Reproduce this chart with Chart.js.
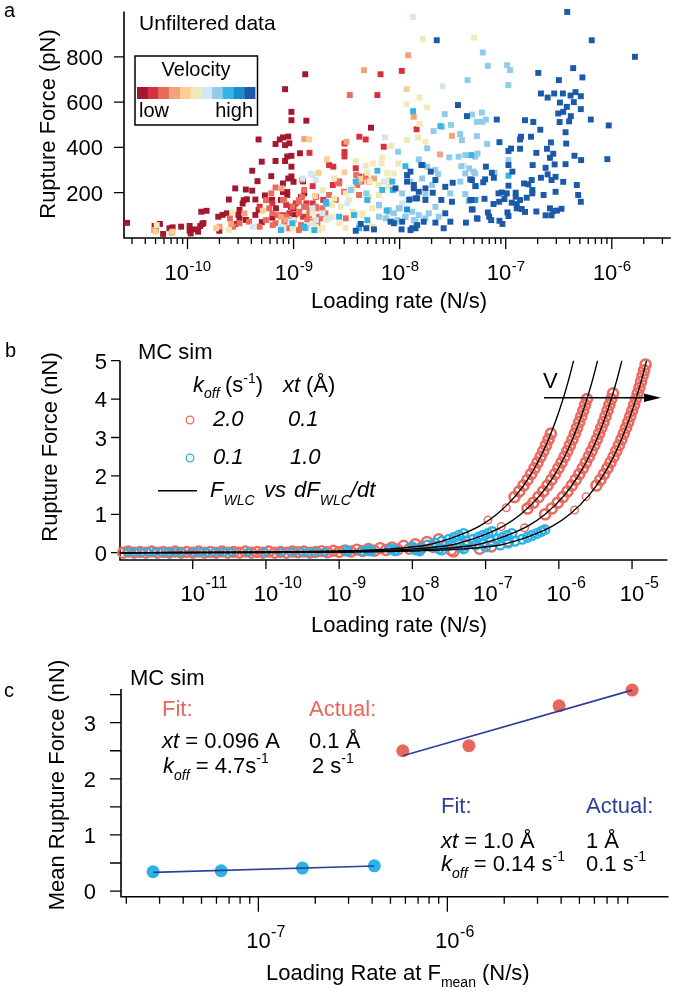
<!DOCTYPE html>
<html>
<head>
<meta charset="utf-8">
<script src="https://cdn.jsdelivr.net/npm/chart.js@4.4.1/dist/chart.umd.min.js"></script>
<style>
  html, body { margin: 0; padding: 0; background: #fff; }
  #wrap { position: relative; width: 675px; height: 992px; overflow: hidden; }
  canvas { position: absolute; left: 0; }
</style>
</head>
<body>
<div id="wrap">
  <canvas id="chartA" width="675" height="320" style="top:0"></canvas>
  <canvas id="chartB" width="675" height="320" style="top:320px"></canvas>
  <canvas id="chartC" width="675" height="352" style="top:640px"></canvas>
</div>
<script>
// ---------- panel a : unfiltered data, [log10 loading rate (N/s), rupture force (pN)] ----------
const velocityColors = ['#a3182f', '#d6313d', '#ea6a5d', '#f4a27b', '#f9cf95', '#f1e9b6',
                        '#d4e6f1', '#8fcbea', '#35b4e8', '#1a8fd0', '#1a5aa8'];

const vel1 = [[-10.57,67],[-10.31,53],[-10.26,62],[-10.30,35],[-10.23,18],[-10.17,43],[-10.14,47],[-10.06,50],
  [-9.98,53],[-9.98,32],[-9.93,38],[-9.97,20],[-9.90,28],[-9.88,53],[-9.86,62],[-9.85,66],[-9.87,116],[-9.82,120],
  [-9.71,94],[-9.70,32],[-9.67,102],[-9.63,109],[-9.61,170],[-9.55,219],[-9.55,62],[-9.52,102],[-9.51,124],[-9.51,87],
  [-9.48,152],[-9.47,167],[-9.45,214],[-9.45,80],[-9.44,171],[-9.39,209],[-9.39,297],[-9.36,170],[-9.36,102],[-9.34,251],
  [-9.33,435],[-9.33,124],[-9.30,337],[-9.30,70],[-9.27,188],[-9.21,273],[-9.20,90],[-9.17,415],[-9.17,340],[-9.13,435],
  [-9.12,168],[-9.10,444],[-9.10,241],[-9.10,203],[-9.10,100],[-9.08,410],[-9.08,340],[-9.08,657],[-9.06,360],[-9.06,203],
  [-9.06,190],[-9.05,448],[-9.05,263],[-9.04,418],[-9.02,557],[-9.02,520],[-9.02,363],[-9.02,315],[-9.02,272],[-9.00,248],
  [-9.00,130],[-8.95,110],[-8.94,374],[-8.93,181],[-8.91,250],[-8.89,723],[-8.88,518],[-8.27,487],
  [-9.203,168],[-9.025,138],[-9.166,131],[-8.993,101],[-8.9,197]];
const vel2 = [[-9.32,138],[-9.20,153],[-9.07,146],[-9.04,109],[-9.00,80],[-8.98,153],[-8.95,109],[-8.91,94],[-8.88,153],
  [-8.85,376],[-8.82,229],[-8.82,153],[-8.79,182],[-8.72,168],[-8.665,322],[-8.63,234],[-8.625,315],[-8.57,249],[-8.52,417],
  [-8.52,380],[-8.52,360],[-8.414,308],[-8.38,447],[-8.38,271],[-8.32,435],[-8.21,631],[-8.18,723],[-8.15,403],[-7.98,738],
  [-7.84,480]];
const vel3 = [[-9.60,87],[-9.57,50],[-9.51,65],[-9.42,72],[-9.32,50],[-9.26,167],[-9.26,79],[-9.23,131],[-9.21,197],
  [-9.20,109],[-9.17,223],[-9.17,65],[-9.10,167],[-9.09,168],[-9.07,94],[-9.03,79],[-9.01,138],[-8.95,167],[-8.95,109],
  [-8.95,160],[-8.95,35],[-8.92,182],[-8.92,256],[-8.90,138],[-8.90,212],[-8.87,79],[-8.85,123],[-8.79,138],[-8.79,131],
  [-8.775,65],[-8.74,87],[-8.73,131],[-8.70,109],[-8.57,241],[-8.47,631],[-8.41,278],[-8.40,234],[-8.36,249],[-8.29,249],
  [-9.15,101],[-9.087,72],[-9.197,57],[-8.946,116],[-8.853,101],[-8.884,138],[-8.759,94],[-8.821,72],[-8.93,57],
  [-9.04,43],[-8.602,168],[-8.587,249],[-8.524,204],[-8.665,190],[-8.508,87],[-8.383,190],[-8.32,271]];
const vel4 = [[-10.15,23],[-10.315,35],[-9.698,50],[-9.588,62],[-9.463,109],[-9.118,94],[-9.113,219],[-9.072,79],
  [-8.9,437],[-8.502,425],[-8.383,249],[-8.336,741],[-8.242,263],[-7.92,807],[-7.867,535],[-7.62,369],[-7.507,451]];
const vel5 = [[-10.3,28],[-10.14,28],[-9.73,43],[-9.291,120],[-8.853,435],[-8.797,185],[-8.765,288],[-8.687,347],
  [-8.52,290],[-8.37,262],[-7.935,657]];
const vel6 = [[-10.29,57],[-9.61,35],[-9.579,112],[-9.103,43],[-9.1,38],[-9.0,79],[-8.822,109],[-8.821,65],[-8.79,50],
  [-8.759,35],[-8.696,79],[-8.634,94],[-8.618,175],[-8.57,65],[-8.555,138],[-8.508,197],[-8.477,168],[-8.42,109],
  [-8.414,341],[-8.35,109],[-8.32,319],[-8.305,288],[-8.29,182],[-8.283,249],[-8.252,329],[-8.25,50],[-8.2,234],
  [-8.195,138],[-8.17,329],[-8.164,356],[-8.117,288],[-8.117,87],[-8.1,256],[-8.079,406],[-8.054,285],[-8.014,329],
  [-7.935,590],[-7.93,432],[-7.826,444],[-7.813,620],[-7.813,503],[-7.782,878],[-7.757,425],[-7.74,576],[-7.297,885],
  [-8.727,212],[-8.634,146],[-8.445,219],[-8.305,175],[-8.258,131],[-8.445,116],[-8.352,101],[-8.195,190],[-8.727,43],
  [-8.508,43],[-8.195,94],[-8.29,65],[-9.009,43],[-8.618,263],[-8.1,226]];
const vel7 = [[-9.385,50],[-9.119,50],[-9.025,72],[-8.868,57],[-8.837,285],[-8.82,278],[-8.79,256],[-8.79,79],
  [-8.727,109],[-8.493,153],[-8.139,444],[-7.876,976],[-7.594,670],[-7.397,319],
  [-8.915,263],[-8.821,131],[-8.665,87],[-8.383,57],[-8.148,249],[-7.976,153]];
const vel8 = [[-8.884,43],[-8.696,150],[-8.46,212],[-8.314,197],[-8.195,94],[-8.1,123],[-8.054,109],[-8.02,79],
  [-8.014,381],[-8.0,131],[-7.945,94],[-7.898,249],[-7.866,79],[-7.82,347],[-7.788,263],[-7.757,190],[-7.74,396],
  [-7.74,315],[-7.725,109],[-7.694,234],[-7.68,472],[-7.663,300],[-7.663,138],[-7.638,282],[-7.632,94],[-7.6,491],
  [-7.575,547],[-7.532,356],[-7.523,197],[-7.516,499],[-7.444,359],[-7.43,459],[-7.428,249],[-7.419,317],[-7.413,432],
  [-7.381,366],[-7.381,285],[-7.381,194],[-7.36,697],[-7.35,163],[-7.344,307],[-7.319,545],[-7.303,293],[-7.288,285],
  [-7.287,359],[-7.272,450],[-7.272,513],[-7.266,373],[-7.225,554],[-7.219,513],[-7.216,819],[-7.187,523],[-7.175,415],
  [-7.169,760],[-7.106,288],[-6.987,763],[-6.975,675],[-6.974,344],[-6.959,741],
  [-8.101,116],[-8.008,131],[-7.882,116],[-7.82,101],[-7.851,72],[-7.757,87],[-8.133,87],[-8.039,72],[-7.945,94],
  [-7.976,197],[-8.195,146]];
const vel9 = [[-9.01,65],[-8.9,50],[-8.9,45],[-8.805,35],[-8.69,153],[-8.383,43],[-8.305,168],[-8.21,297],[-8.123,121],
  [-8.064,212],[-7.945,317],[-7.873,560],[-7.616,494],[-7.325,366],[-7.281,229],[-6.974,275],
  [-8.696,160],[-8.571,94],[-8.43,101],[-8.305,79],[-8.164,212],[-8.07,249],[-7.914,168],[-8.414,249],[-9.119,35]];
const vel10 = [[-7.93,126],[-7.782,322],[-7.287,168]];
const vel11 = [[-7.65,873],[-7.45,587],[-7.366,538],[-7.334,259],[-7.287,229],[-7.325,168],[-7.32,126],[-7.272,87],
  [-7.507,160],[-7.57,109],[-7.522,72],[-7.585,43],[-7.663,68],[-7.773,72],[-7.85,43],[-7.898,35],[-7.982,38],[-7.795,322],
  [-7.898,293],[-7.93,278],[-7.93,249],[-7.866,234],[-7.82,204],[-7.85,175],[-7.907,170],[-7.757,168],[-7.688,200],
  [-7.607,168],[-7.5,244],[-7.57,226],[-7.663,256],[-7.707,293],[-8.054,65],[-8.242,38],[-8.314,43],[-8.414,32],[-8.367,62],
  [-6.42,998],[-6.189,873],[-5.782,800],[-6.693,729],[-6.364,750],[-6.277,709],[-6.499,697],[-7.084,523],[-6.668,638],
  [-6.605,620],[-6.543,638],[-6.461,638],[-6.389,629],[-6.342,644],[-6.292,626],[-6.489,598],[-6.358,600],[-6.424,579],
  [-6.292,569],[-6.505,550],[-6.458,557],[-6.386,538],[-6.492,512],[-6.402,515],[-6.198,523],[-6.029,497],[-6.818,520],
  [-6.74,512],[-6.674,478],[-6.436,467],[-6.856,447],[-6.865,435],[-6.762,447],[-7.059,423],[-6.95,395],[-6.974,384],
  [-6.865,394],[-6.574,422],[-6.43,417],[-6.611,394],[-6.711,376],[-6.552,372],[-6.583,354],[-6.352,363],[-6.289,344],
  [-6.042,348],[-7.187,315],[-6.974,322],[-6.746,322],[-6.539,325],[-6.436,326],[-6.624,310],[-6.937,293],[-7.131,288],
  [-7.112,266],[-7.194,259],[-7.212,246],[-7.319,256],[-6.974,231],[-6.827,241],[-6.787,237],[-6.755,256],[-6.668,266],
  [-6.605,281],[-6.568,256],[-6.53,270],[-6.458,248],[-6.33,234],[-6.317,190],[-6.292,160],[-6.53,204],[-6.643,190],
  [-6.749,212],[-6.749,197],[-6.906,200],[-6.906,182],[-6.99,197],[-7.037,201],[-7.068,197],[-7.012,172],[-7.062,160],
  [-7.115,150],[-6.943,156],[-6.896,150],[-6.865,168],[-6.802,178],[-6.896,131],[-6.849,128],[-6.818,115],[-6.711,117],
  [-6.583,131],[-6.552,119],[-6.517,121],[-6.474,129],[-6.624,100],[-6.568,100],[-7.2,173],[-7.334,168],[-7.312,126],
  [-7.168,113],[-7.156,94],[-7.137,79],[-7.266,85],[-7.375,68],[-7.059,76],[-7.031,62],[-6.974,97],[-6.984,113],
  [-8.086,72],[-7.976,72],[-7.867,219],[-7.835,175],[-7.882,43],[-7.835,57],[-7.757,219],[-8.039,219]];
const velocityGroups = [vel1, vel2, vel3, vel4, vel5, vel6, vel7, vel8, vel9, vel10, vel11];
const aRateTicks = [1e-10, 1e-9, 1e-8, 1e-7, 1e-6];
const aForceTicks = [200, 400, 600, 800];

// ---------- panel b : MC simulation, [log10 loading rate (N/s), rupture force (nN)] ----------
const wlcForce = [0, 0.005, 0.02, 0.05, 0.1, 0.2, 0.3, 0.45, 0.7, 1.0, 1.5, 2.0, 2.5, 3.0, 3.5, 4.0, 4.5, 5.02];
const wlcLogRate1 = [-12, -11.295, -9.795, -8.895, -8.295, -7.795, -7.595, -7.365, -7.078, -6.846, -6.582, -6.394, -6.249, -6.13, -6.03, -5.943, -5.866, -5.795];
const wlcLogRate2 = [-12, -10.968, -9.468, -8.568, -7.968, -7.468, -7.268, -7.038, -6.751, -6.519, -6.255, -6.067, -5.922, -5.803, -5.703, -5.616, -5.539, -5.468];
const wlcLogRate3 = [-12, -10.636, -9.136, -8.236, -7.636, -7.136, -6.936, -6.706, -6.419, -6.187, -5.923, -5.735, -5.59, -5.471, -5.371, -5.284, -5.207, -5.136];
const wlcLogRate4 = [-12, -10.299, -8.799, -7.899, -7.299, -6.799, -6.599, -6.369, -6.082, -5.85, -5.586, -5.398, -5.253, -5.134, -5.034, -4.947, -4.87, -4.799];

const redBand1 = [[-6.604,1.45],[-6.54,1.6],[-6.482,1.75],[-6.428,1.9],[-6.378,2.05],[-6.332,2.2],[-6.29,2.35],[-6.249,2.5],
  [-6.211,2.65],[-6.175,2.8],[-6.141,2.95],[-6.109,3.1]];
const redBand2 = [[-6.428,1.15],[-6.348,1.3],[-6.277,1.45],[-6.213,1.6],[-6.155,1.75],[-6.101,1.9],[-6.051,2.05],[-6.005,2.2],
  [-5.963,2.35],[-5.922,2.5],[-5.884,2.65],[-5.848,2.8],[-5.814,2.95],[-5.782,3.1],[-5.751,3.25],[-5.722,3.4],[-5.694,3.55],
  [-5.667,3.7],[-5.641,3.85],[-5.616,4.0]];
const redBand3 = [[-6.187,1.0],[-6.096,1.15],[-6.016,1.3],[-5.945,1.45],[-5.881,1.6],[-5.823,1.75],[-5.769,1.9],[-5.719,2.05],
  [-5.673,2.2],[-5.631,2.35],[-5.59,2.5],[-5.552,2.65],[-5.516,2.8],[-5.482,2.95],[-5.45,3.1],[-5.419,3.25],[-5.39,3.4],
  [-5.362,3.55],[-5.335,3.7],[-5.309,3.85],[-5.284,4.0],[-5.26,4.15]];
const redBand4 = [[-5.486,1.75],[-5.432,1.9],[-5.382,2.05],[-5.336,2.2],[-5.294,2.35],[-5.253,2.5],[-5.215,2.65],[-5.179,2.8],
  [-5.145,2.95],[-5.113,3.1],[-5.082,3.25],[-5.053,3.4],[-5.025,3.55],[-4.998,3.7],[-4.972,3.85],[-4.947,4.0],[-4.923,4.15],
  [-4.9,4.3],[-4.878,4.45],[-4.856,4.6],[-4.835,4.75],[-4.815,4.9]];
const redSparse = [[-6.968,0.85],[-6.786,0.68],[-6.718,1.17],[-6.468,0.65],[-6.4,1.24],[-6.218,0.59],[-5.786,1.11],[-5.627,1.46]];
const redLow = [[-11.95,0.0],[-11.88,0.03],[-11.8,0.0],[-11.72,0.02],[-11.64,0.0],[-11.56,0.03],[-11.48,0.0],[-11.4,0.02],
  [-11.32,0.0],[-11.24,0.03],[-11.16,0.0],[-11.08,0.02],[-11.0,0.0],[-10.92,0.03],[-10.84,0.0],[-10.76,0.02],[-10.68,0.0],
  [-10.6,0.03],[-10.52,0.0],[-10.44,0.02],[-10.36,0.0],[-10.28,0.03],[-10.2,0.0],[-10.12,0.02],[-10.04,0.0],[-9.96,0.03],
  [-9.88,0.0],[-9.8,0.02],[-9.72,0.0],[-9.64,0.03],[-9.56,0.01],[-9.48,0.03],[-9.4,0.0],[-9.32,0.02],[-9.24,0.04],[-9.16,0.01],
  [-9.08,0.05],[-9.0,0.02],[-8.92,0.06],[-8.84,0.03],[-8.76,0.08],[-8.68,0.04],[-8.6,0.1],[-8.52,0.05],[-8.44,0.12],
  [-8.36,0.07],[-8.28,0.14],[-8.2,0.08],[-8.12,0.18],[-8.04,0.1],[-7.96,0.22],[-7.88,0.12],[-7.8,0.28],[-7.72,0.15],
  [-7.64,0.35],[-7.47,0.07],[-7.44,0.03],[-7.286,0.2],[-7.082,0.1],[-6.923,0.16],[-6.695,0.29]];
const blueLow = [[-11.88,0.01],[-11.79,0.01],[-11.7,0.01],[-11.61,0.01],[-11.52,0.01],[-11.42,0.01],[-11.33,0.01],
  [-11.24,0.01],[-11.15,0.01],[-10.99,0.01],[-10.9,0.01],[-10.81,0.01],[-10.7,0.01],[-10.58,0.01],[-10.47,0.01],
  [-10.24,0.01],[-10.02,0.01],[-9.79,0.01],[-9.65,0.01],[-9.51,0.01],[-9.42,0.01],[-9.33,0.01],[-9.2,0.01],
  [-8.88,0.02],[-8.7,0.03],[-8.6,0.03]];
const blueRise = [[-8.895,0.05],[-8.6,0.07],[-8.295,0.1],[-8.0,0.15],[-7.795,0.2],[-7.69,0.25],[-7.595,0.3],[-7.5,0.35],
  [-7.43,0.4],[-7.365,0.45],[-7.3,0.5],
  [-8.568,0.05],[-8.25,0.07],[-7.968,0.1],[-7.67,0.15],[-7.468,0.2],[-7.36,0.25],[-7.268,0.3],[-7.17,0.35],[-7.1,0.4],
  [-7.038,0.45],[-6.97,0.5],[-6.91,0.55],
  [-8.236,0.05],[-7.95,0.07],[-7.636,0.1],[-7.34,0.15],[-7.136,0.2],[-7.03,0.25],[-6.936,0.3],[-6.84,0.35],[-6.77,0.4],
  [-6.706,0.45],[-6.64,0.5],
  [-7.899,0.05],[-7.6,0.07],[-7.299,0.1],[-7.0,0.15],[-6.799,0.2],[-6.69,0.25],[-6.599,0.3],[-6.5,0.35],[-6.43,0.4],
  [-6.369,0.45],[-6.3,0.5],[-6.24,0.55],[-6.19,0.6]];
const bRateTicks = [1e-11, 1e-10, 1e-9, 1e-8, 1e-7, 1e-6, 1e-5];
const bForceTicks = [0, 1, 2, 3, 4, 5];

// ---------- panel c : mean rupture force vs loading rate at F_mean ----------
const blueMeanRate = [2.77e-8, 6.35e-8, 1.71e-7, 4.11e-7];
const blueMeanForce = [0.344, 0.362, 0.41, 0.45];
const redMeanRate = [5.81e-7, 1.3e-6, 3.9e-6, 9.5e-6];
const redMeanForce = [2.50, 2.59, 3.30, 3.58];
const blueFitRate = [2.77e-8, 4.11e-7];
const blueFitForce = [0.333, 0.446];
const redFitRate = [5.81e-7, 9.5e-6];
const redFitForce = [2.41, 3.58];
const cRateTicks = [1e-7, 1e-6];
const cForceTicks = [0, 0.5, 1, 1.5, 2, 2.5, 3, 3.5];
const cForceLabels = [0, 1, 2, 3];

// ---------- helpers ----------
const FF = '"Liberation Sans", Arial, Helvetica, sans-serif';
const font = (px, style) => (style ? style + ' ' : '') + px + 'px ' + FF;
const fromLog = list => list.map(p => ({ x: Math.pow(10, p[0]), y: p[1] }));
const zipXY = (xs, ys) => xs.map((x, i) => ({ x: x, y: ys[i] }));
const RED = '#ec6a5e';
const CYAN = '#2cb2e6';
const NAVY = '#2e3f98';

function minorTicks(decades, min, max) {
  const out = [];
  decades.forEach(d => [2, 3, 4, 5, 6, 7, 8, 9].forEach(m => {
    const v = m * d;
    if (v > min && v < max) out.push(v);
  }));
  return out;
}

function runs(ctx, y, parts) {
  let cx = 0;
  parts.forEach(p => {
    ctx.font = p.f || font(22);
    if (p.x !== undefined) cx = p.x;
    if (p.c) ctx.fillStyle = p.c;
    ctx.fillText(p.t, cx, y + (p.dy || 0));
    cx += ctx.measureText(p.t).width;
  });
}

function rotatedTitle(ctx, text, x, y) {
  ctx.save();
  ctx.translate(x, y);
  ctx.rotate(-Math.PI / 2);
  ctx.textAlign = 'center';
  ctx.font = font(22);
  ctx.fillText(text, 0, 0);
  ctx.restore();
}

function drawFrame(chart, o) {
  const ctx = chart.ctx, a = chart.chartArea, x = chart.scales.x, y = chart.scales.y;
  ctx.save();
  ctx.strokeStyle = '#000';
  ctx.fillStyle = '#000';
  ctx.lineWidth = 1.6;
  ctx.beginPath();
  ctx.moveTo(a.left, a.top);
  ctx.lineTo(a.left, a.bottom);
  ctx.lineTo(a.right, a.bottom);
  ctx.stroke();

  ctx.lineWidth = 1.3;
  ctx.beginPath();
  o.xMinor.forEach(v => {
    const px = x.getPixelForValue(v);
    ctx.moveTo(px, a.bottom); ctx.lineTo(px, a.bottom + o.minorLen);
  });
  o.xMajor.forEach(v => {
    const px = x.getPixelForValue(v);
    ctx.moveTo(px, a.bottom); ctx.lineTo(px, a.bottom + o.majorLen);
  });
  o.yTicks.forEach(v => {
    const py = y.getPixelForValue(v);
    ctx.moveTo(a.left - o.yLen, py); ctx.lineTo(a.left, py);
  });
  ctx.stroke();

  ctx.textBaseline = 'alphabetic';
  ctx.textAlign = 'right';
  ctx.font = font(22);
  o.yLabels.forEach(v => ctx.fillText(String(v), o.yLabelRight, y.getPixelForValue(v) + 8));

  ctx.textAlign = 'left';
  o.xMajor.forEach(v => {
    const px = x.getPixelForValue(v);
    const e = String(Math.round(Math.log10(v)));
    ctx.font = font(22);
    const w10 = ctx.measureText('10').width;
    ctx.font = font(o.supSize);
    const we = ctx.measureText(e).width;
    const x0 = o.centerWhole ? px - (w10 + we) / 2 : px - w10 / 2;
    ctx.font = font(22);
    ctx.fillText('10', x0, o.xLabelBase);
    ctx.font = font(o.supSize);
    ctx.fillText(e, x0 + w10 + 0.5, o.xLabelBase - o.supRaise);
  });
  ctx.restore();
}

function makeChart(id, datasets, o) {
  return new Chart(document.getElementById(id), {
    type: 'scatter',
    data: { datasets: datasets },
    options: {
      responsive: false,
      animation: false,
      events: [],
      layout: { padding: { left: 0, top: o.top, right: o.right, bottom: 0 } },
      plugins: { legend: { display: false }, tooltip: { enabled: false } },
      scales: {
        x: {
          type: 'logarithmic', min: o.xMin, max: o.xMax, bounds: 'data',
          ticks: { display: false }, grid: { display: false }, border: { display: false },
          afterFit: s => { s.height = o.xHeight; }
        },
        y: {
          type: 'linear', min: o.yMin, max: o.yMax, bounds: 'data',
          ticks: { display: false }, grid: { display: false }, border: { display: false },
          afterFit: s => { s.width = o.yWidth; }
        }
      }
    },
    plugins: [{
      id: 'frame_' + id,
      beforeDatasetsDraw: c => drawFrame(c, o),
      afterDraw: c => o.extra(c)
    }]
  });
}

// ---------- panel a ----------
const aXMin = 2.52e-11, aXMax = 3.6e-6;
makeChart('chartA', velocityGroups.map((g, i) => ({
  data: fromLog(g),
  pointStyle: 'rect',
  pointRadius: 4.2,
  pointBackgroundColor: velocityColors[i],
  pointBorderWidth: 0,
  order: velocityGroups.length - i,
  clip: false
})), {
  top: 11.5, right: 2, xHeight: 82, yWidth: 124,
  xMin: aXMin, xMax: aXMax, yMin: 0, yMax: 1000,
  xMajor: aRateTicks,
  xMinor: minorTicks([1e-11, 1e-10, 1e-9, 1e-8, 1e-7, 1e-6], aXMin, aXMax),
  majorLen: 11, minorLen: 6,
  yTicks: aForceTicks, yLabels: aForceTicks, yLen: 10, yLabelRight: 103,
  xLabelBase: 280, supSize: 15, supRaise: 9, centerWhole: true,
  extra: chart => {
    const ctx = chart.ctx;
    ctx.save();
    ctx.fillStyle = '#000';
    ctx.textAlign = 'left';
    ctx.font = font(20);
    ctx.fillText('a', 4, 17);
    ctx.font = font(21);
    ctx.fillText('Unfiltered data', 139, 30);
    ctx.textAlign = 'center';
    ctx.font = font(22);
    ctx.fillText('Loading rate (N/s)', 399, 308);
    rotatedTitle(ctx, 'Rupture Force (pN)', 55, 124);
    // velocity colour key
    ctx.strokeStyle = '#000';
    ctx.lineWidth = 1.5;
    ctx.fillStyle = '#fff';
    ctx.fillRect(135, 56, 122.5, 69);
    ctx.strokeRect(135, 56, 122.5, 69);
    ctx.fillStyle = '#000';
    ctx.font = font(20);
    ctx.fillText('Velocity', 196, 76);
    const sw = 118 / velocityColors.length;
    velocityColors.forEach((c, i) => {
      ctx.fillStyle = c;
      ctx.fillRect(137 + i * sw, 87, sw + 0.4, 12);
    });
    ctx.fillStyle = '#000';
    ctx.textAlign = 'left';
    ctx.fillText('low', 139, 117);
    ctx.textAlign = 'right';
    ctx.fillText('high', 253, 117);
    ctx.restore();
  }
});

// ---------- panel b ----------
const circle = (list, color, r, w, order) => ({
  data: fromLog(list),
  pointStyle: 'circle',
  pointRadius: r,
  pointBackgroundColor: 'rgba(0,0,0,0)',
  pointBorderColor: color,
  pointBorderWidth: w,
  order: order,
  clip: false
});
const wlcLine = rates => ({
  data: zipXY(rates.map(r => Math.pow(10, r)), wlcForce),
  showLine: true,
  borderColor: '#000',
  borderWidth: 1.4,
  pointRadius: 0,
  cubicInterpolationMode: 'monotone',
  order: 1
});
makeChart('chartB', [
  circle(redLow, RED, 5, 2.4, 3),
  circle(redSparse, RED, 3.8, 1.4, 3),
  circle(redBand1, RED, 5, 2.6, 3),
  circle(redBand2, RED, 5, 2.6, 3),
  circle(redBand3, RED, 5, 2.6, 3),
  circle(redBand4, RED, 5, 2.6, 3),
  circle(blueLow, CYAN, 3.8, 2, 2),
  circle(blueRise, CYAN, 4.4, 2.4, 2),
  wlcLine(wlcLogRate1), wlcLine(wlcLogRate2), wlcLine(wlcLogRate3), wlcLine(wlcLogRate4)
], {
  top: 40.7, right: 7, xHeight: 80, yWidth: 120,
  xMin: 1.016e-12, xMax: 3.04e-5, yMin: -0.19, yMax: 5,
  xMajor: bRateTicks, xMinor: [],
  majorLen: 9, minorLen: 0,
  yTicks: bForceTicks, yLabels: bForceTicks, yLen: 9, yLabelRight: 107,
  xLabelBase: 281, supSize: 16, supRaise: 13, centerWhole: false,
  extra: chart => {
    const ctx = chart.ctx;
    ctx.save();
    ctx.fillStyle = '#000';
    ctx.strokeStyle = '#000';
    ctx.textAlign = 'left';
    ctx.font = font(20);
    ctx.fillText('b', 5, 37);
    ctx.font = font(22);
    ctx.fillText('MC sim', 138, 39);
    ctx.textAlign = 'center';
    ctx.fillText('Loading rate (N/s)', 399, 312);
    rotatedTitle(ctx, 'Rupture Force (nN)', 57, 127);
    ctx.textAlign = 'left';
    // legend
    runs(ctx, 71.7, [
      { t: 'k', f: font(22, 'italic'), x: 193 },
      { t: 'off', f: font(14, 'italic'), dy: 6 },
      { t: '(s', f: font(22), x: 225 },
      { t: '-1', f: font(14), dy: -9 },
      { t: ')', f: font(22) },
      { t: 'xt', f: font(22, 'italic'), x: 283 },
      { t: '(Å)', f: font(22), x: 306 }
    ]);
    runs(ctx, 106, [{ t: '2.0', f: font(22, 'italic'), x: 213 }, { t: '0.1', f: font(22, 'italic'), x: 288 }]);
    runs(ctx, 144, [{ t: '0.1', f: font(22, 'italic'), x: 213 }, { t: '1.0', f: font(22, 'italic'), x: 290 }]);
    ctx.lineWidth = 1.3;
    ctx.strokeStyle = RED;
    ctx.beginPath(); ctx.arc(190, 100, 3.8, 0, Math.PI * 2); ctx.stroke();
    ctx.strokeStyle = CYAN;
    ctx.beginPath(); ctx.arc(190, 138, 3.8, 0, Math.PI * 2); ctx.stroke();
    ctx.strokeStyle = '#000';
    ctx.lineWidth = 1.5;
    ctx.beginPath(); ctx.moveTo(158, 170.7); ctx.lineTo(197, 170.7); ctx.stroke();
    runs(ctx, 176.7, [
      { t: 'F', f: font(22, 'italic'), x: 210 },
      { t: 'WLC', f: font(14, 'italic'), dy: 8 },
      { t: 'vs', f: font(22, 'italic'), x: 264 },
      { t: 'dF', f: font(22, 'italic'), x: 294 },
      { t: 'WLC', f: font(14, 'italic'), dy: 8 },
      { t: '/dt', f: font(22, 'italic') }
    ]);
    // velocity arrow
    ctx.font = font(22);
    ctx.fillText('V', 543, 68);
    ctx.beginPath(); ctx.moveTo(544, 77.7); ctx.lineTo(648, 77.7); ctx.stroke();
    ctx.beginPath(); ctx.moveTo(661, 77.7); ctx.lineTo(644, 73.4); ctx.lineTo(644, 82); ctx.closePath(); ctx.fill();
    ctx.restore();
  }
});

// ---------- panel c ----------
const cXMin = 1.875e-8, cXMax = 1.48e-5;
const dots = (xs, ys, color) => ({
  data: zipXY(xs, ys),
  pointStyle: 'circle',
  pointRadius: 6.5,
  pointBackgroundColor: color,
  pointBorderWidth: 0,
  order: 2,
  clip: false
});
const fit = (xs, ys) => ({
  data: zipXY(xs, ys),
  showLine: true,
  borderColor: NAVY,
  borderWidth: 1.6,
  pointRadius: 0,
  order: 1
});
makeChart('chartC', [
  dots(blueMeanRate, blueMeanForce, CYAN),
  dots(redMeanRate, redMeanForce, '#e8675c'),
  fit(blueFitRate, blueFitForce),
  fit(redFitRate, redFitForce)
], {
  top: 49, right: 2, xHeight: 95.3, yWidth: 121,
  xMin: cXMin, xMax: cXMax, yMin: -0.1, yMax: 3.6,
  xMajor: cRateTicks,
  xMinor: minorTicks([1e-8, 1e-7, 1e-6], cXMin, cXMax),
  majorLen: 15, minorLen: 7,
  yTicks: cForceTicks, yLabels: cForceLabels, yLen: 11, yLabelRight: 96,
  xLabelBase: 308, supSize: 16, supRaise: 11, centerWhole: false,
  extra: chart => {
    const ctx = chart.ctx;
    const it = font(22, 'italic'), rm = font(22), sub = font(14, 'italic'), sup = font(14);
    ctx.save();
    ctx.fillStyle = '#000';
    ctx.textAlign = 'left';
    ctx.font = font(20);
    ctx.fillText('c', 4, 57);
    ctx.font = rm;
    ctx.fillText('MC sim', 130, 45);
    runs(ctx, 340, [
      { t: 'Loading Rate at F', f: rm, x: 266 },
      { t: 'mean', f: font(14), dy: 7 },
      { t: ' (N/s)', f: rm }
    ]);
    rotatedTitle(ctx, 'Mean Rupture Force (nN)', 64, 145);
    ctx.textAlign = 'left';
    // fitted vs actual parameters (red set)
    runs(ctx, 76, [{ t: 'Fit:', f: rm, x: 162, c: '#e8675c' }, { t: 'Actual:', f: rm, x: 309 }]);
    runs(ctx, 108, [{ t: 'xt', f: it, x: 162, c: '#000' }, { t: ' = 0.096 A', f: rm }, { t: '0.1 Å', f: rm, x: 309 }]);
    runs(ctx, 133, [
      { t: 'k', f: it, x: 163 }, { t: 'off', f: sub, dy: 7 }, { t: ' = 4.7s', f: rm }, { t: '-1', f: sup, dy: -10 },
      { t: '2 s', f: rm, x: 312 }, { t: '-1', f: sup, dy: -10 }
    ]);
    // blue set
    runs(ctx, 173, [{ t: 'Fit:', f: rm, x: 441, c: NAVY }, { t: 'Actual:', f: rm, x: 586 }]);
    runs(ctx, 208, [{ t: 'xt', f: it, x: 441, c: '#000' }, { t: ' = 1.0 Å', f: rm }, { t: '1 Å', f: rm, x: 586 }]);
    runs(ctx, 231, [
      { t: 'k', f: it, x: 441 }, { t: 'off', f: sub, dy: 7 }, { t: ' = 0.14 s', f: rm }, { t: '-1', f: sup, dy: -10 },
      { t: '0.1 s', f: rm, x: 586 }, { t: '-1', f: sup, dy: -10 }
    ]);
    ctx.restore();
  }
});
</script>
</body>
</html>
